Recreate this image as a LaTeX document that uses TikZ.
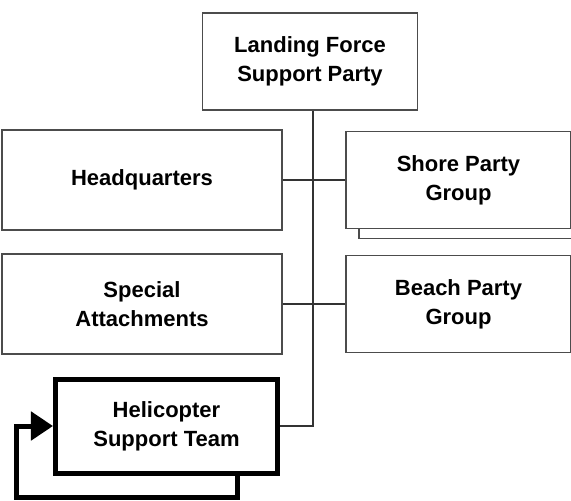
\documentclass[tikz,border=0pt]{standalone}
\usepackage{fontspec}
\setmainfont{Liberation Sans}
\usetikzlibrary{arrows.meta,positioning,shadows}

\tikzset{
  unit/.style={draw=black!70, line width=0.6pt, fill=white, align=center,
    minimum width=140pt, minimum height=50pt,
    font=\fontsize{11}{14.5}\selectfont\bfseries},
  stacked/.style={unit, copy shadow={shadow xshift=6.5pt, shadow yshift=-5pt,
    draw=black!70, fill=white}},
  tasked/.style={unit, draw=black, line width=2.5pt},
  link/.style={draw=black!80, line width=0.8pt}
}

\begin{document}
\begin{tikzpicture}[on grid,node distance=60pt]
   \useasboundingbox (-155pt,30.75pt) rectangle (130.5pt,-219.25pt);
   \node [unit, minimum width=107.5pt, minimum height=48.5pt] (lfsp) at (0,0) {Landing Force\\Support Party};
   \node [unit] (hq) [below left=59.25pt and 84pt of lfsp] {Headquarters};
   \node [stacked, minimum width=112.5pt, minimum height=48.5pt] (spg) [right=158.25pt of hq] {Shore Party\\Group};
   \node [unit] (sa) [below=62pt of hq] {Special\\Attachments};
   \node [unit, minimum width=112.5pt, minimum height=48.5pt] (bpg) [right=158.25pt of sa] {Beach Party\\Group};
   \node [tasked, minimum width=111pt, minimum height=47pt] (hst) [below right=61pt and 12.25pt of sa] {Helicopter\\Support Team};
   % trunk and branches
   \path[link] (lfsp.south -| 1.5pt,0) -- (1.5pt,0 |- hst.east) -- (hst.east);
   \path[link] (hq) -- (spg);
   \path[link] (sa) -- (bpg);
   % feedback loop
   \coordinate (loopa) at ([xshift=35.25pt]hst.south);
   \coordinate (loopb) at ([yshift=-11pt]loopa);
   \coordinate (loopc) at (-146.5pt,0 |- loopb);
   \draw[line width=2.5pt, -{Triangle[length=11pt,width=14pt]}]
     (loopa) -- (loopb) -- (loopc) -- (loopc |- hst.west) -- (hst.west);
\end{tikzpicture}
\end{document}
